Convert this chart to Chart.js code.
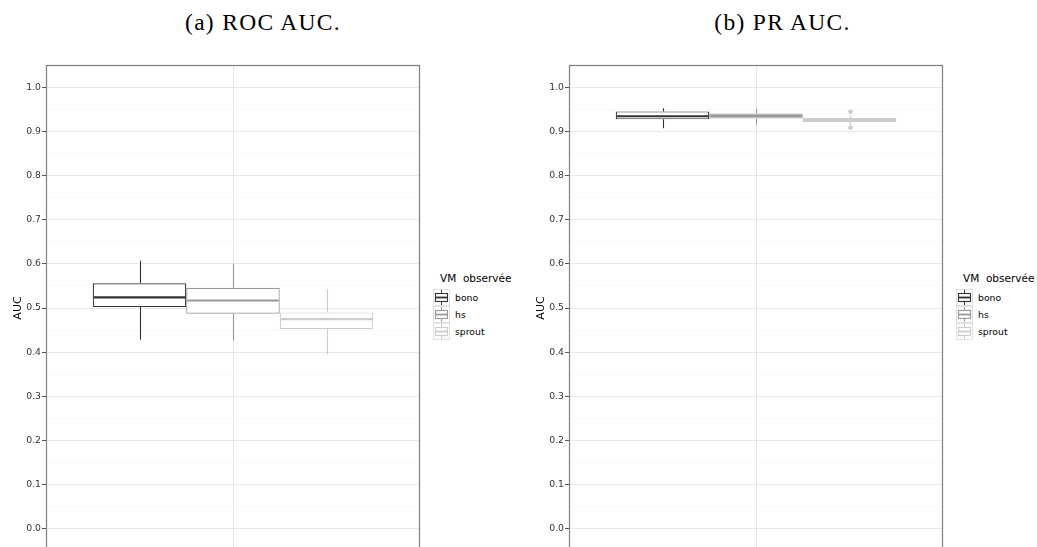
<!DOCTYPE html>
<html>
<head>
<meta charset="utf-8">
<script src="https://cdn.jsdelivr.net/npm/chart.js@4/dist/chart.umd.min.js"></script>
<style>
    body { margin: 0; background: #fff; overflow: hidden; width: 1037px; height: 547px; position: relative; }
    canvas { position: absolute; top: 0; }
    .title { position: absolute; top: 11px; font-family: 'Liberation Serif', serif; font-size: 23.5px; line-height: 1; letter-spacing: 1.3px; color: #000; white-space: nowrap; text-align: center; }
    .legend { position: absolute; top: 272px; font-family: 'DejaVu Sans', sans-serif; color: #000; }
    .legend .ltitle { font-size: 10.5px; margin-left: 7px; height: 17px; white-space: pre; }
    .legend .row { display: flex; align-items: center; height: 17px; }
    .legend .row svg { display: block; }
    .legend .row span { font-size: 9.3px; margin-left: 5px; }
</style>
</head>
<body>
<div class="title" style="left:0;width:526px;">(a) ROC AUC.</div>
<div class="title" style="left:520px;width:525px;">(b) PR AUC.</div>

<canvas id="roc-chart" width="425" height="570" style="left:0;"></canvas>
<canvas id="pr-chart" width="425" height="570" style="left:523px;"></canvas>

<div class="legend" id="roc-legend" style="left:433px;"></div>
<div class="legend" id="pr-legend" style="left:956px;"></div>

<script>
// Groups (fill / colour legend)
const groups = ['bono', 'hs', 'sprout'];
const groupColors = ['#333333', '#989898', '#cccccc'];
const legendTitle = 'VM  observée';

// ROC AUC box statistics
const rocMin = [0.428, 0.426, 0.395];
const rocQ1 = [0.502, 0.487, 0.452];
const rocMedian = [0.524, 0.517, 0.475];
const rocQ3 = [0.556, 0.546, 0.490];
const rocMax = [0.607, 0.601, 0.543];
const rocOutliers = [[], [], []];

// PR AUC box statistics
const prMin = [0.907, 0.915, 0.913];
const prQ1 = [0.927, 0.929, 0.921];
const prMedian = [0.934, 0.935, 0.926];
const prQ3 = [0.945, 0.940, 0.930];
const prMax = [0.952, 0.951, 0.937];
const prOutliers = [[], [], [0.944, 0.908]];

// y axis range
const yMin = -0.05;
const yMax = 1.05;
const yStep = 0.05;

const isMajor = v => Math.abs(v * 10 - Math.round(v * 10)) < 1e-6;

// Draws panel border, whiskers, medians and outliers
const boxPlugin = {
    id: 'boxWhiskers',
    beforeDatasetsDraw(chart) {
        const a = chart.chartArea;
        const ctx = chart.ctx;
        ctx.save();
        ctx.strokeStyle = '#7f7f7f';
        ctx.lineWidth = 1.2;
        ctx.strokeRect(a.left + 0.5, a.top + 0.5, a.right - a.left - 1, a.bottom - a.top);
        ctx.restore();
    },
    afterDatasetsDraw(chart, args, opts) {
        const ctx = chart.ctx;
        const y = chart.scales.y;
        ctx.save();
        chart.data.datasets.forEach((ds, i) => {
            const bar = chart.getDatasetMeta(i).data[0];
            const x = Math.round(bar.x) + 0.5;
            const half = bar.width / 2;
            ctx.strokeStyle = groupColors[i];
            ctx.fillStyle = groupColors[i];
            ctx.lineWidth = 1.1;
            ctx.beginPath();
            ctx.moveTo(x, y.getPixelForValue(opts.max[i]));
            ctx.lineTo(x, y.getPixelForValue(ds.data[0][1]));
            ctx.moveTo(x, y.getPixelForValue(ds.data[0][0]));
            ctx.lineTo(x, y.getPixelForValue(opts.min[i]));
            ctx.stroke();
            ctx.lineWidth = 2.2;
            ctx.beginPath();
            const my = y.getPixelForValue(opts.median[i]);
            ctx.moveTo(bar.x - half + 1, my);
            ctx.lineTo(bar.x + half - 1, my);
            ctx.stroke();
            opts.outliers[i].forEach(v => {
                ctx.beginPath();
                ctx.arc(x, y.getPixelForValue(v), 2.3, 0, Math.PI * 2);
                ctx.fill();
            });
        });
        ctx.restore();
    }
};

function createPanel(canvasId, q1, q3, min, median, max, outliers) {
    const ctx = document.getElementById(canvasId).getContext('2d');
    return new Chart(ctx, {
        type: 'bar',
        data: {
            labels: [''],
            datasets: groups.map((g, i) => ({
                label: g,
                data: [[q1[i], q3[i]]],
                backgroundColor: '#ffffff',
                borderColor: groupColors[i],
                borderWidth: 1.2,
                borderSkipped: false,
                categoryPercentage: 0.75,
                barPercentage: 1.0
            }))
        },
        options: {
            responsive: false,
            animation: false,
            layout: { padding: { left: 0, top: 65, right: 5, bottom: 19 } },
            plugins: {
                legend: { display: false },
                tooltip: { enabled: false },
                boxWhiskers: { min: min, median: median, max: max, outliers: outliers }
            },
            scales: {
                x: {
                    type: 'category',
                    offset: true,
                    grid: { offset: false, color: '#e5e5e5', drawTicks: false },
                    border: { display: false },
                    ticks: { display: false },
                    afterFit: scale => { scale.height = 0; }
                },
                y: {
                    min: yMin,
                    max: yMax,
                    border: { display: false },
                    grid: {
                        color: c => isMajor(c.tick.value) ? '#e8e8e8' : '#f8f8f8',
                        tickColor: c => isMajor(c.tick.value) ? '#555555' : 'rgba(0,0,0,0)',
                        tickLength: 4,
                        lineWidth: 1
                    },
                    ticks: {
                        stepSize: yStep,
                        autoSkip: false,
                        padding: 1,
                        color: '#333333',
                        font: { family: 'DejaVu Sans', size: 9.3 },
                        callback: v => isMajor(v) ? v.toFixed(1) : ''
                    },
                    title: {
                        display: true,
                        text: 'AUC',
                        color: '#000000',
                        font: { family: 'DejaVu Sans', size: 11 },
                        padding: { top: 12, bottom: 0 }
                    },
                    afterFit: scale => { scale.width = 46; }
                }
            }
        },
        plugins: [boxPlugin]
    });
}

function keyGlyph(color) {
    return '<svg width="17" height="17" xmlns="http://www.w3.org/2000/svg">' +
        '<rect x="0.5" y="0.5" width="16" height="16" fill="#fff" stroke="#e0e0e0"/>' +
        '<line x1="8.5" y1="1" x2="8.5" y2="4.5" stroke="' + color + '"/>' +
        '<line x1="8.5" y1="12.5" x2="8.5" y2="16" stroke="' + color + '"/>' +
        '<rect x="2.5" y="4.5" width="12" height="8" fill="#fff" stroke="' + color + '" stroke-width="1.1"/>' +
        '<line x1="2.5" y1="8.5" x2="14.5" y2="8.5" stroke="' + color + '" stroke-width="1.8"/>' +
        '</svg>';
}

function buildLegend(id) {
    const el = document.getElementById(id);
    let html = '<div class="ltitle">' + legendTitle + '</div>';
    groups.forEach((g, i) => {
        html += '<div class="row">' + keyGlyph(groupColors[i]) + '<span>' + g + '</span></div>';
    });
    el.innerHTML = html;
}

createPanel('roc-chart', rocQ1, rocQ3, rocMin, rocMedian, rocMax, rocOutliers);
createPanel('pr-chart', prQ1, prQ3, prMin, prMedian, prMax, prOutliers);
buildLegend('roc-legend');
buildLegend('pr-legend');
</script>
</body>
</html>
